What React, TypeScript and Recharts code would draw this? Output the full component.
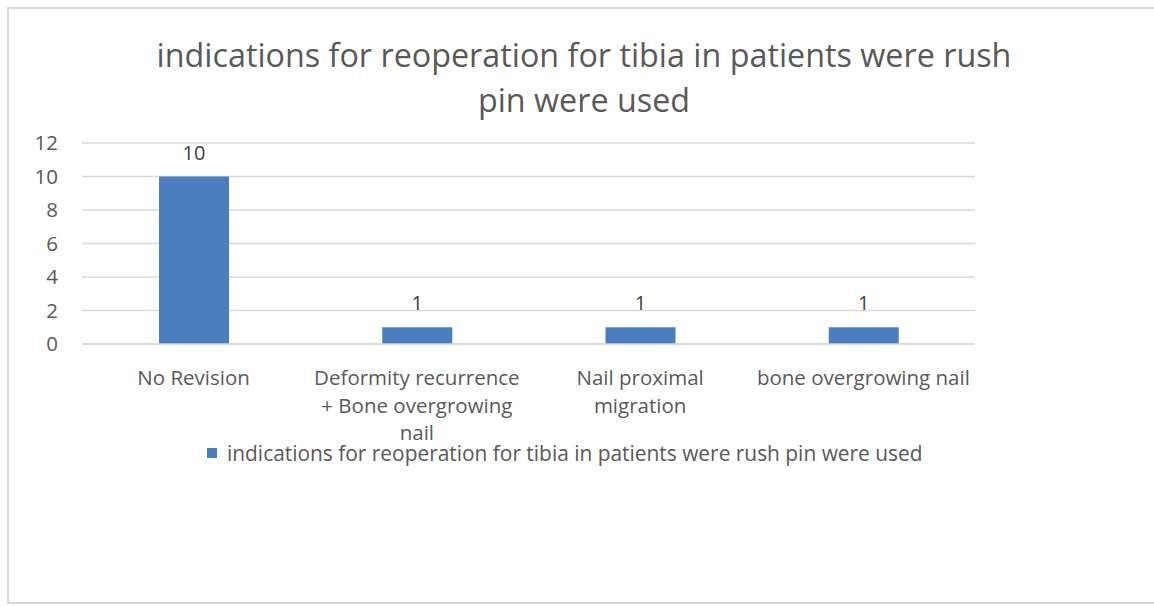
import { BarChart, Bar, XAxis, YAxis, CartesianGrid, Legend, LabelList } from 'recharts';

const CATEGORIES = [
    'No Revision',
    'Deformity recurrence\n+ Bone overgrowing\nnail',
    'Nail proximal\nmigration',
    'bone overgrowing nail'
];

const VALUES = [10, 1, 1, 1];

const Y_TICKS = [0, 2, 4, 6, 8, 10, 12];

const SERIES_NAME = 'indications for reoperation for tibia in patients were rush pin were used';
const TITLE_LINES = ['indications for reoperation for tibia in patients were rush', 'pin were used'];

const FONT = '"Open Sans", "Noto Sans", sans-serif';
const BLUE = '#4a7ebf';
const TEXT = '#595959';

const data = CATEGORIES.map((name, i) => ({ name, value: VALUES[i] }));

// multi-line category label, split on \n
function CategoryTick(props: any) {
    const { x, y, payload } = props;
    const lines = String(payload.value).split('\n');
    return (
        <text x={x} y={y + 39} textAnchor="middle" fill={TEXT} fontSize={20.5} fontFamily={FONT}>
            {lines.map((line, i) => (
                <tspan key={i} x={x} dy={i === 0 ? 0 : 27.5}>{line}</tspan>
            ))}
        </text>
    );
}

function LegendContent() {
    return (
        <div style={{ display: 'flex', alignItems: 'center', gap: 10, fontFamily: FONT, fontSize: 20.9, color: TEXT, whiteSpace: 'nowrap' }}>
            <div style={{ width: 10, height: 10, background: BLUE }} />
            <span>{SERIES_NAME}</span>
        </div>
    );
}

export default function App() {
    return (
        <div style={{ position: 'absolute', left: 0, top: 0, width: 1154, height: 607, background: '#fff', overflow: 'hidden' }}>
            {/* frame */}
            <div style={{
                position: 'absolute',
                left: 7,
                top: 7,
                width: 1147,
                height: 597,
                borderLeft: '2px solid #d9d9d9',
                borderTop: '2px solid #d9d9d9',
                borderBottom: '2px solid #d9d9d9',
                boxSizing: 'border-box'
            }} />

            <div style={{
                position: 'absolute',
                left: 0,
                top: 32,
                width: 1168,
                textAlign: 'center',
                fontFamily: FONT,
                fontSize: 32.3,
                lineHeight: '45px',
                color: TEXT,
                whiteSpace: 'nowrap'
            }}>
                {TITLE_LINES.map((t, i) => <div key={i}>{t}</div>)}
            </div>

            <div style={{ position: 'absolute', left: 0, top: 0 }}>
                <BarChart
                    width={1154}
                    height={607}
                    data={data}
                    margin={{ top: 143, right: 179, left: 22, bottom: 0 }}
                >
                    <CartesianGrid vertical={false} stroke="#d9d9d9" strokeWidth={1.5} />
                    <XAxis
                        dataKey="name"
                        height={263}
                        axisLine={{ stroke: '#d9d9d9', strokeWidth: 1.5 }}
                        tickLine={false}
                        tickSize={0}
                        interval={0}
                        tick={<CategoryTick />}
                    />
                    <YAxis
                        width={60}
                        domain={[0, 12]}
                        ticks={Y_TICKS}
                        axisLine={false}
                        tickLine={false}
                        tickSize={0}
                        tickMargin={24}
                        tick={{ fill: TEXT, fontSize: 20.5, fontFamily: FONT }}
                    />
                    <Legend
                        content={<LegendContent />}
                        height={0}
                        wrapperStyle={{ position: 'absolute', left: 207, top: 439, width: 'auto', height: 0 }}
                    />
                    <Bar dataKey="value" name={SERIES_NAME} fill={BLUE} barSize={70} isAnimationActive={false}>
                        <LabelList dataKey="value" position="top" offset={17} fill="#404040" fontSize={20} fontFamily={FONT} />
                    </Bar>
                </BarChart>
            </div>
        </div>
    );
}
